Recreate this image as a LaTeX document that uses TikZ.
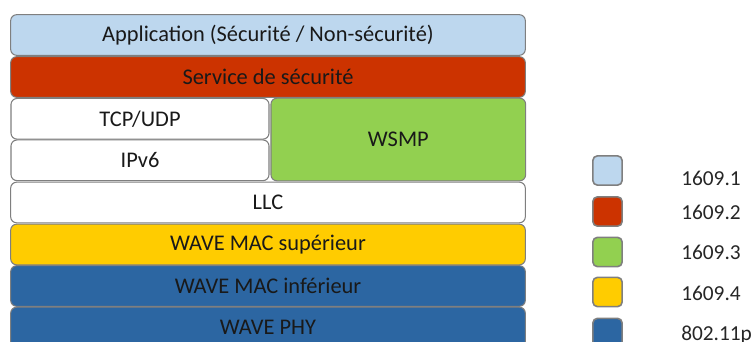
\documentclass[tikz,border=0pt]{standalone}
\usepackage{fontspec}
\setmainfont{Carlito}
\definecolor{appblue}{HTML}{BDD7EE}
\definecolor{secred}{HTML}{CC3300}
\definecolor{wsmpgreen}{HTML}{92D050}
\definecolor{macyellow}{HTML}{FFCC00}
\definecolor{wavblue}{HTML}{2C66A2}
\definecolor{edgegray}{HTML}{7F7F7F}
\begin{document}
\begin{tikzpicture}[x=0.75pt, y=-0.75pt,
  layer/.style={draw=edgegray, line width=0.8pt, rounded corners=4.5pt,
                minimum width=386pt, minimum height=30.5pt, text=black!90,
                font=\fontsize{16.8}{19}\selectfont, align=center, inner sep=0pt},
  halflayer/.style={layer, minimum width=193.5pt},
  legbox/.style={draw=edgegray, line width=1.2pt, rounded corners=3.5pt,
                 minimum size=22pt, inner sep=0pt},
  legtext/.style={anchor=west, font=\fontsize{16}{19}\selectfont, text=black!85, inner sep=0pt},
]
  \useasboundingbox (0,0) rectangle (754,342);

  % Stack
  \node[layer, fill=appblue] (app) at (268,35) {Application (Sécurité / Non-sécurité)};
  \node[layer, fill=secred] (sec) at (268,77) {Service de sécurité};
  \node[halflayer, fill=white] (tcp) at (140,118.8) {TCP/UDP};
  \node[halflayer, fill=white] (ipv6) at (140,160.3) {IPv6};
  \node[layer, fill=wsmpgreen, minimum width=191pt, minimum height=62pt] (wsmp) at (398.3,139.5) {WSMP};
  \node[layer, fill=white] (llc) at (268,202.5) {LLC};
  \node[layer, fill=macyellow] (macsup) at (268,244.5) {WAVE MAC supérieur};
  \node[layer, fill=wavblue] (macinf) at (268,286) {WAVE MAC inférieur};
  \node[layer, fill=wavblue] (phy) at (268,327.5) {WAVE PHY};

  % Legend
  \foreach \c/\y/\ty/\lbl [count=\i] in {appblue/170.5/178/1609.1, secred/211.5/212/1609.2,
      wsmpgreen/252/252.5/1609.3, macyellow/292/293/1609.4, wavblue/333/335/802.11p}
  {
    \node[legbox, fill=\c] (sq\i) at (607.5,\y) {};
    \node[legtext] (lbl\i) at (681,\ty) {\lbl};
  }
\end{tikzpicture}
\end{document}
